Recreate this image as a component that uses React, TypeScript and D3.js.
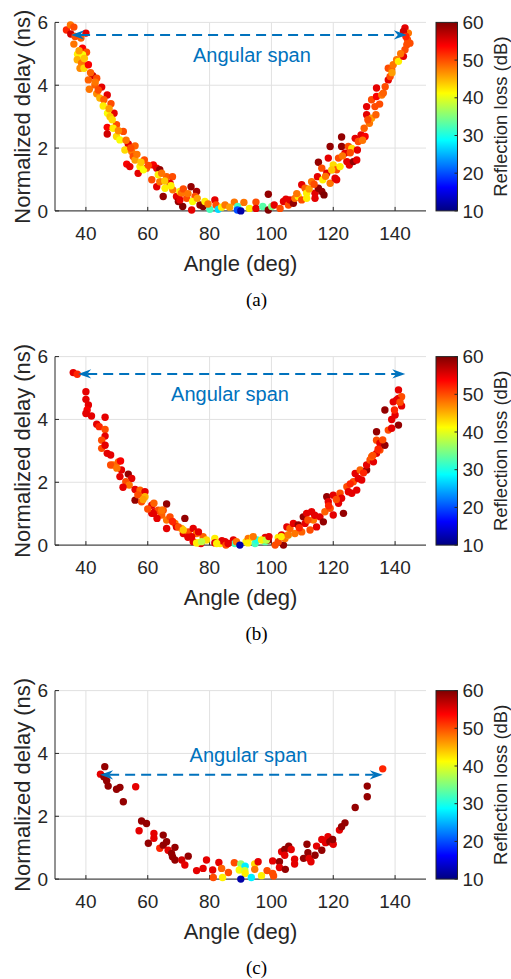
import React from 'react';
import * as d3 from 'd3';

// ---------------- Data (angle in deg, normalized delay in ns, reflection loss in dB) ----------------
const ANGLE_A = [
  33.7, 35.0, 36.1, 35.1, 40.0, 38.4, 36.1, 38.9, 40.2, 37.3,
  38.9, 37.2, 38.6, 38.1, 39.4, 40.8, 42.2, 40.8, 41.1, 43.5,
  45.1, 42.9, 43.5, 44.5, 46.9, 45.8, 45.6, 48.1, 49.1, 47.0,
  47.8, 46.9, 46.9, 49.9, 48.8, 52.1, 49.9, 51.0, 53.7, 52.6,
  55.9, 54.8, 55.3, 55.9, 53.2, 54.2, 56.9, 57.5, 58.9, 59.6,
  58.6, 61.8, 62.9, 63.9, 61.3, 62.9, 63.9, 65.0, 63.4, 66.1,
  68.0, 67.2, 65.6, 68.1, 69.3, 70.4, 70.9, 69.9, 71.3, 70.4,
  72.6, 74.0, 75.8, 75.3, 74.2, 74.5, 76.9, 77.9, 78.5, 80.1,
  81.7, 82.1, 82.8, 83.9, 85.0, 88.0, 89.1, 89.0, 91.1, 92.9,
  95.0, 95.0, 97.2, 99.0, 99.0, 100.1, 100.9, 102.8, 103.9, 104.7,
  105.5, 106.0, 107.1, 107.6, 108.7, 109.8, 109.8, 110.9, 111.4, 111.4,
  113.0, 114.1, 114.1, 114.9, 115.2, 116.3, 117.0, 115.2, 116.3, 116.6,
  117.9, 118.4, 119.0, 119.0, 120.0, 120.6, 121.1, 121.1, 121.7, 122.2,
  122.7, 122.7, 123.8, 124.4, 124.9, 125.2, 126.0, 126.5, 127.1, 127.6,
  128.1, 127.8, 129.0, 130.0, 130.3, 130.8, 130.8, 131.7, 132.4, 132.4,
  133.5, 133.8, 134.0, 134.0, 135.7, 136.2, 137.8, 138.4, 137.8, 138.9,
  139.4, 140.5, 141.1, 142.7, 143.2, 143.8, 144.0, 143.2, 144.3, 142.7,
  144.8, 36.5, 37.8, 39.5, 41.5, 43.0, 44.0, 47.5, 48.5, 50.5,
  53.0, 54.5, 56.5, 57.8, 60.2, 64.5, 65.5, 67.5, 71.5, 73.0,
  76.0, 79.5, 86.5, 108.2, 112.2, 113.8, 117.5, 119.5, 123.0, 125.5,
  129.5, 131.2, 135.0, 136.8, 139.0, 141.8, 143.5, 90.1,
];
const DELAY_A = [
  5.76, 5.92, 5.85, 5.63, 5.66, 5.50, 5.31, 5.18, 5.05, 4.99,
  4.97, 4.81, 4.70, 4.54, 4.54, 4.65, 4.30, 4.17, 3.87, 4.22,
  3.94, 4.01, 3.73, 3.59, 3.69, 3.54, 3.34, 3.41, 3.11, 3.11,
  3.00, 2.66, 2.45, 2.74, 2.63, 2.53, 2.37, 2.26, 2.13, 1.94,
  2.07, 1.89, 1.73, 1.62, 1.49, 1.41, 1.20, 1.41, 1.62, 1.36,
  1.31, 1.46, 1.36, 1.31, 0.99, 0.77, 0.93, 0.46, 1.15, 1.09,
  1.09, 0.88, 0.72, 0.67, 0.46, 0.62, 0.56, 0.30, 0.14, 0.35,
  0.40, 0.77, 0.62, 0.46, 0.03, 0.30, 0.19, 0.14, 0.30, 0.05,
  0.35, 0.19, 0.05, 0.12, 0.19, 0.28, 0.14, 0.03, 0.27, 0.08,
  0.28, 0.08, 0.14, 0.53, 0.03, 0.14, 0.19, 0.08, 0.30, 0.37,
  0.19, 0.35, 0.24, 0.40, 0.46, 0.83, 0.35, 0.72, 0.56, 0.40,
  0.93, 0.56, 0.40, 1.09, 0.72, 0.62, 0.51, 1.55, 1.36, 0.99,
  1.20, 1.68, 2.05, 0.88, 1.46, 1.04, 0.99, 1.31, 1.68, 1.41,
  2.35, 2.05, 1.84, 1.57, 2.05, 1.46, 1.99, 1.57, 2.31, 1.62,
  2.21, 1.94, 2.42, 2.63, 2.37, 3.06, 3.32, 2.79, 2.95, 3.54,
  3.32, 3.06, 3.91, 3.64, 3.69, 3.75, 4.17, 4.28, 4.54, 4.49,
  4.65, 4.81, 4.76, 4.92, 5.13, 5.29, 5.45, 5.82, 5.66, 5.71,
  5.34, 5.55, 5.10, 4.85, 4.40, 4.10, 3.85, 3.25, 2.90, 2.55,
  2.25, 2.00, 1.80, 1.55, 1.45, 1.20, 0.95, 0.80, 0.70, 0.55,
  0.40, 0.22, 0.12, 0.55, 0.70, 0.85, 1.10, 1.30, 1.75, 1.85,
  2.25, 2.90, 3.40, 3.95, 4.40, 5.00, 5.55, 0.00,
];
const LOSS_A = [
  52, 48, 50, 56, 55, 49, 48, 54, 50, 42,
  41, 45, 48, 47, 43, 54, 56, 49, 48, 50,
  55, 49, 47, 45, 55, 49, 42, 50, 55, 41,
  44, 54, 56, 50, 42, 50, 43, 41, 55, 43,
  49, 48, 50, 46, 54, 55, 55, 42, 50, 49,
  41, 54, 55, 59, 50, 55, 48, 59, 42, 49,
  50, 55, 42, 48, 55, 42, 48, 59, 60, 55,
  50, 59, 58, 50, 55, 41, 59, 60, 42, 32,
  55, 50, 27, 42, 48, 48, 32, 20, 48, 42,
  50, 55, 33, 59, 60, 35, 55, 50, 55, 55,
  50, 55, 59, 48, 42, 55, 50, 49, 42, 42,
  48, 55, 55, 55, 59, 59, 60, 59, 50, 42,
  55, 55, 59, 48, 43, 55, 55, 50, 50, 42,
  59, 59, 55, 55, 50, 55, 43, 59, 55, 55,
  50, 55, 55, 49, 54, 55, 55, 48, 46, 50,
  50, 49, 55, 54, 48, 49, 55, 50, 50, 49,
  48, 48, 42, 55, 50, 50, 50, 55, 48, 56,
  50, 50, 46, 44, 49, 48, 50, 46, 43, 47,
  48, 50, 48, 44, 50, 48, 44, 42, 50, 48,
  46, 48, 46, 48, 46, 50, 48, 44, 48, 50,
  48, 50, 50, 50, 46, 48, 52, 12,
];

const ANGLE_B = [
  35.9, 37.2, 40.0, 40.0, 40.8, 40.4, 40.0, 41.8, 43.5, 44.3,
  46.2, 46.2, 46.2, 45.1, 45.1, 46.2, 46.9, 48.0, 48.8, 50.5,
  51.2, 51.5, 51.0, 53.7, 54.8, 52.9, 54.0, 52.0, 55.9, 57.5,
  58.4, 59.1, 55.9, 58.0, 59.1, 61.3, 62.0, 61.3, 62.3, 63.4,
  66.1, 65.0, 64.5, 66.1, 66.1, 67.2, 68.8, 69.3, 70.9, 72.0,
  71.5, 73.1, 74.7, 75.8, 74.2, 74.7, 76.4, 77.2, 77.9, 79.0,
  81.7, 81.7, 83.4, 84.0, 85.0, 85.3, 87.7, 88.2, 91.8, 92.5,
  93.9, 94.7, 95.3, 98.0, 98.0, 99.0, 101.2, 102.2, 103.3, 103.9,
  104.4, 105.0, 105.5, 106.0, 107.1, 107.6, 108.7, 109.8, 110.3, 110.9,
  111.4, 112.5, 113.0, 113.6, 114.6, 115.7, 116.8, 117.3, 117.9, 118.4,
  119.0, 120.0, 120.0, 121.7, 122.2, 122.7, 123.3, 124.4, 124.9, 126.0,
  126.5, 127.1, 127.6, 128.1, 128.7, 129.2, 130.8, 130.8, 131.9, 133.0,
  132.4, 134.0, 135.1, 134.0, 134.0, 135.1, 136.7, 136.7, 137.8, 138.9,
  138.9, 140.0, 141.1, 139.4, 141.1, 141.1, 142.1, 142.1, 140.5, 61.8,
  64.5, 69.9, 71.5, 76.4, 75.8, 77.4, 82.3, 86.0, 88.7, 92.4,
  94.1, 96.8, 98.4, 99.2, 102.2, 103.2, 105.4, 48.0, 50.0, 56.8,
  58.5, 60.0, 63.0, 68.0, 73.0, 109.0, 111.8, 114.0, 118.5, 121.0,
  125.5, 129.8, 132.8, 134.5, 136.0, 139.8, 141.6, 89.8,
];
const DELAY_B = [
  5.49, 5.44, 4.88, 4.64, 4.46, 4.30, 4.19, 4.11, 3.85, 3.77,
  4.07, 3.68, 3.47, 3.34, 3.08, 3.18, 2.92, 2.87, 2.55, 2.65,
  2.68, 2.39, 2.18, 2.26, 2.12, 2.02, 1.91, 1.84, 1.77, 1.75,
  1.67, 1.70, 1.43, 1.38, 1.54, 1.27, 1.33, 1.01, 1.06, 1.11,
  1.31, 1.11, 0.96, 0.53, 0.80, 0.90, 0.69, 0.58, 0.53, 0.85,
  0.37, 0.42, 0.53, 0.37, 0.27, 0.11, 0.07, 0.05, 0.27, 0.16,
  0.21, 0.07, 0.05, 0.14, 0.11, 0.00, 0.16, 0.05, 0.11, 0.21,
  0.24, 0.05, 0.16, 0.24, 0.11, 0.16, 0.00, 0.24, 0.32, 0.00,
  0.21, 0.58, 0.32, 0.53, 0.69, 0.37, 0.64, 0.42, 0.90, 0.69,
  1.01, 0.48, 1.06, 0.80, 0.58, 0.90, 0.74, 1.06, 1.54, 1.38,
  1.17, 0.96, 1.59, 1.33, 1.65, 1.49, 1.01, 1.86, 1.70, 1.65,
  2.02, 2.28, 1.75, 2.12, 2.39, 2.07, 2.39, 2.55, 2.71, 2.65,
  2.81, 2.92, 3.03, 3.61, 3.34, 3.24, 3.18, 4.30, 3.66, 3.72,
  4.00, 4.14, 3.82, 4.56, 4.67, 4.94, 4.72, 4.43, 4.62, 1.01,
  1.11, 0.58, 0.48, 0.42, 0.07, 0.11, 0.05, 0.05, 0.11, 0.07,
  0.27, 0.16, 0.16, 0.27, 0.11, 0.27, 0.32, 2.55, 2.45, 1.60,
  1.45, 1.15, 0.85, 0.75, 0.25, 0.55, 0.80, 0.95, 1.25, 1.45,
  1.95, 2.30, 2.85, 3.05, 3.35, 4.30, 4.55, 0.00,
];
const LOSS_B = [
  55, 52, 55, 55, 55, 54, 55, 55, 55, 52,
  55, 50, 55, 50, 50, 55, 55, 55, 48, 49,
  54, 55, 55, 59, 55, 50, 48, 55, 55, 49,
  48, 55, 59, 50, 45, 55, 49, 55, 55, 50,
  59, 50, 49, 55, 48, 50, 48, 55, 45, 59,
  55, 50, 55, 48, 55, 55, 42, 55, 49, 43,
  42, 55, 42, 55, 55, 50, 55, 32, 42, 48,
  43, 32, 30, 55, 33, 59, 50, 42, 55, 59,
  48, 55, 36, 49, 55, 48, 59, 49, 59, 55,
  55, 50, 55, 48, 55, 55, 59, 49, 59, 55,
  50, 55, 55, 55, 50, 55, 59, 50, 55, 55,
  50, 55, 55, 55, 49, 55, 59, 55, 50, 55,
  49, 55, 50, 59, 50, 55, 59, 59, 50, 55,
  55, 55, 59, 55, 55, 55, 50, 55, 55, 55,
  48, 50, 44, 55, 42, 38, 42, 55, 48, 42,
  48, 42, 38, 55, 50, 42, 48, 50, 48, 50,
  46, 50, 55, 52, 55, 52, 50, 55, 52, 50,
  52, 52, 50, 52, 50, 52, 50, 12,
];

const ANGLE_C = [
  44.7, 46.1, 45.8, 46.7, 47.2, 49.9, 51.0, 52.1, 56.1, 58.0,
  59.6, 57.2, 60.2, 62.0, 62.0, 65.0, 63.9, 65.0, 66.1, 66.6,
  67.7, 68.8, 68.0, 68.8, 71.0, 72.0, 73.1, 75.8, 77.9, 79.0,
  81.0, 81.2, 83.0, 83.9, 84.2, 86.1, 88.0, 90.1, 89.6, 91.5,
  91.4, 91.5, 93.5, 94.6, 94.6, 95.7, 96.8, 98.6, 100.4, 100.4,
  100.7, 102.6, 102.6, 103.3, 104.3, 104.3, 104.5, 105.6, 106.4, 107.5,
  107.5, 110.4, 111.5, 111.8, 112.2, 112.8, 114.1, 114.6, 116.3, 116.3,
  117.5, 118.3, 118.9, 120.0, 119.8, 122.0, 122.7, 123.8, 127.1, 131.0,
  131.0, 136.0, 90.1,
];
const DELAY_C = [
  3.34, 3.58, 3.26, 3.13, 2.96, 2.86, 2.92, 2.46, 2.94, 1.85,
  1.77, 1.54, 1.14, 1.45, 1.30, 1.40, 0.98, 1.08, 1.19, 0.92,
  0.82, 1.01, 0.71, 0.61, 0.61, 0.45, 0.73, 0.27, 0.34, 0.61,
  0.29, 0.05, 0.53, 0.34, 0.05, 0.21, 0.52, 0.48, 0.29, 0.41,
  0.27, 0.18, 0.05, 0.48, 0.31, 0.55, 0.11, 0.27, 0.18, 0.58,
  0.10, 0.55, 0.37, 0.87, 0.94, 0.76, 0.31, 1.05, 0.94, 0.63,
  0.48, 0.66, 1.11, 0.84, 0.66, 0.55, 0.76, 1.05, 0.92, 1.26,
  1.16, 1.35, 1.19, 1.11, 1.26, 1.56, 1.67, 1.79, 2.28, 2.96,
  2.62, 3.51, 0.00,
];
const LOSS_C = [
  55, 59, 59, 59, 59, 59, 59, 59, 55, 59,
  59, 55, 59, 55, 55, 59, 52, 59, 59, 55,
  59, 59, 59, 59, 56, 55, 59, 55, 55, 55,
  55, 50, 55, 49, 42, 50, 50, 36, 41, 28,
  39, 42, 28, 43, 48, 55, 42, 50, 50, 55,
  50, 59, 55, 55, 59, 55, 59, 59, 55, 55,
  55, 59, 59, 59, 55, 55, 59, 55, 59, 55,
  55, 55, 59, 55, 59, 55, 59, 59, 59, 59,
  59, 52, 12,
];

// Annotation values (data coordinates)
const SPAN_START = [35.2, 37.5, 44.6];
const SPAN_END = [143.8, 143.3, 136.0];
const SPAN_DELAY = [5.6, 5.45, 3.32];
const LABEL_ANGLE = [93.7, 86.6, 92.6];
const LABEL_DELAY = [4.74, 4.6, 3.72];
const CAPTIONS = ['(a)', '(b)', '(c)'];

const X_TICKS = [40, 60, 80, 100, 120, 140];
const Y_TICKS = [0, 2, 4, 6];
const CB_TICKS = [10, 20, 30, 40, 50, 60];
const X_DOMAIN = [30, 150];
const Y_DOMAIN = [0, 6];
const LOSS_DOMAIN = [10, 60];

// ---------------- Helpers ----------------
function jet(t: number): string {
  const c = (v: number) => Math.max(0, Math.min(1, v));
  const r = c(1.5 - Math.abs(4 * t - 3));
  const g = c(1.5 - Math.abs(4 * t - 2));
  const b = c(1.5 - Math.abs(4 * t - 1));
  return d3.rgb(r * 255, g * 255, b * 255).formatHex();
}
const colorScale = d3.scaleSequential(jet).domain(LOSS_DOMAIN as [number, number]);

const SANS = 'Liberation Sans, Arial, Helvetica, sans-serif';
const SERIF = 'Liberation Serif, Times New Roman, serif';
const INK = '#262626';
const GRID = '#e1e1e1';
const BLUE = '#0072BD';

const PLOT_L = 55;
const PLOT_R = 426;
const PLOT_H = 188.5;
const TOPS = [22.4, 356.6, 690.6];
const CB_L = 436;
const CB_R = 457.5;

const PANELS = [
  { angles: ANGLE_A, delays: DELAY_A, losses: LOSS_A },
  { angles: ANGLE_B, delays: DELAY_B, losses: LOSS_B },
  { angles: ANGLE_C, delays: DELAY_C, losses: LOSS_C },
];

function Panel({ idx }: { idx: number }) {
  const top = TOPS[idx];
  const bottom = top + PLOT_H;
  const p = PANELS[idx];
  const x = d3.scaleLinear().domain(X_DOMAIN).range([PLOT_L, PLOT_R]);
  const y = d3.scaleLinear().domain(Y_DOMAIN).range([bottom, top]);
  const cb = d3.scaleLinear().domain(LOSS_DOMAIN).range([bottom, top]);
  const gradId = `jetgrad${idx}`;
  const ax1 = x(SPAN_START[idx]);
  const ax2 = x(SPAN_END[idx]);
  const ay = y(SPAN_DELAY[idx]);
  const head = 'M0,0 L-13,-4.6 L-9,0 L-13,4.6 Z';
  const stops = d3.range(0, 1.0001, 1 / 64);
  return (
    <g>
      <defs>
        <linearGradient id={gradId} x1="0" y1="1" x2="0" y2="0">
          {stops.map((s, i) => (
            <stop key={i} offset={s} stopColor={jet(s)} />
          ))}
        </linearGradient>
      </defs>
      {/* grid */}
      {X_TICKS.map((t) => (
        <line key={'gx' + t} x1={x(t)} x2={x(t)} y1={top} y2={bottom} stroke={GRID} strokeWidth={1} />
      ))}
      {Y_TICKS.map((t) => (
        <line key={'gy' + t} x1={PLOT_L} x2={PLOT_R} y1={y(t)} y2={y(t)} stroke={GRID} strokeWidth={1} />
      ))}
      {/* axes */}
      <line x1={PLOT_L} x2={PLOT_R} y1={bottom} y2={bottom} stroke={INK} strokeWidth={1} />
      <line x1={PLOT_L} x2={PLOT_L} y1={top} y2={bottom} stroke={INK} strokeWidth={1} />
      {X_TICKS.map((t) => (
        <g key={'tx' + t}>
          <line x1={x(t)} x2={x(t)} y1={bottom} y2={bottom - 4} stroke={INK} strokeWidth={1} />
          <text x={x(t)} y={bottom + 22} dy="0.35em" textAnchor="middle" fontFamily={SANS} fontSize={19} fill={INK}>
            {t}
          </text>
        </g>
      ))}
      {Y_TICKS.map((t) => (
        <g key={'ty' + t}>
          <line x1={PLOT_L} x2={PLOT_L + 4} y1={y(t)} y2={y(t)} stroke={INK} strokeWidth={1} />
          <text x={PLOT_L - 7} y={y(t)} dy="0.35em" textAnchor="end" fontFamily={SANS} fontSize={19} fill={INK}>
            {t}
          </text>
        </g>
      ))}
      {/* points */}
      {p.angles.map((a, i) => (
        <circle key={'pt' + i} cx={x(a)} cy={y(p.delays[i])} r={3.7} fill={colorScale(p.losses[i])} />
      ))}
      {/* angular span arrow */}
      <line x1={ax1 + 9} x2={ax2 - 9} y1={ay} y2={ay} stroke={BLUE} strokeWidth={2} strokeDasharray="10,6" />
      <path d={head} fill={BLUE} transform={`translate(${ax2},${ay})`} />
      <path d={head} fill={BLUE} transform={`translate(${ax1},${ay}) rotate(180)`} />
      <text x={x(LABEL_ANGLE[idx])} y={y(LABEL_DELAY[idx])} textAnchor="middle" fontFamily={SANS} fontSize={20} fill={BLUE}>
        Angular span
      </text>
      {/* axis labels */}
      <text x={(PLOT_L + PLOT_R) / 2} y={bottom + 52} dy="0.35em" textAnchor="middle" fontFamily={SANS} fontSize={22} fill={INK}>
        Angle (deg)
      </text>
      <text
        transform={`translate(22,${(top + bottom) / 2}) rotate(-90)`}
        dy="0.35em"
        textAnchor="middle"
        fontFamily={SANS}
        fontSize={22}
        fill={INK}
      >
        Normalized delay (ns)
      </text>
      {/* colorbar */}
      <rect x={CB_L} y={top} width={CB_R - CB_L} height={PLOT_H} fill={`url(#${gradId})`} stroke={INK} strokeWidth={1} />
      {CB_TICKS.map((t) => (
        <g key={'cb' + t}>
          <line x1={CB_R} x2={CB_R - 3} y1={cb(t)} y2={cb(t)} stroke={INK} strokeWidth={1} />
          <text x={CB_R + 5} y={cb(t)} dy="0.35em" textAnchor="start" fontFamily={SANS} fontSize={19} fill={INK}>
            {t}
          </text>
        </g>
      ))}
      <text
        transform={`translate(501,${(top + bottom) / 2}) rotate(-90)`}
        dy="0.35em"
        textAnchor="middle"
        fontFamily={SANS}
        fontSize={18.5}
        fill={INK}
      >
        Reflection loss (dB)
      </text>
      {/* caption */}
      <text x={256.5} y={bottom + 88} dy="0.35em" textAnchor="middle" fontFamily={SERIF} fontSize={19} fill="#000">
        {CAPTIONS[idx]}
      </text>
    </g>
  );
}

export default function App() {
  return (
    <svg
      width={511}
      height={979}
      style={{ position: 'absolute', left: 0, top: 0, background: '#fff' }}
      xmlns="http://www.w3.org/2000/svg"
    >
      <rect x={0} y={0} width={511} height={979} fill="#fff" />
      {[0, 1, 2].map((i) => (
        <Panel key={i} idx={i} />
      ))}
    </svg>
  );
}
